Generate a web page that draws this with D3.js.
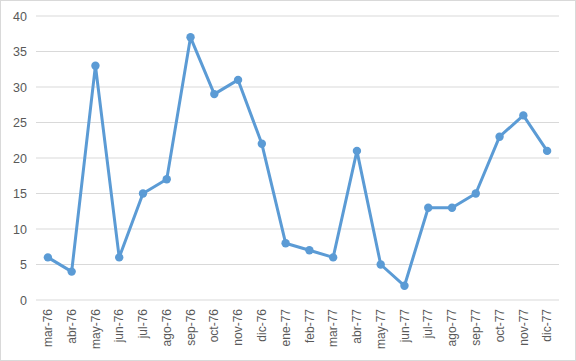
<!DOCTYPE html>
<html><head><meta charset="utf-8">
<script src="https://cdn.jsdelivr.net/npm/d3@7"></script>
<style>body{margin:0;background:#fff}svg{display:block}</style>
</head><body>
<script>
const categories = ["mar-76","abr-76","may-76","jun-76","jul-76","ago-76","sep-76","oct-76","nov-76","dic-76","ene-77","feb-77","mar-77","abr-77","may-77","jun-77","jul-77","ago-77","sep-77","oct-77","nov-77","dic-77"];
const values = [6,4,33,6,15,17,37,29,31,22,8,7,6,21,5,2,13,13,15,23,26,21];
const yTicks = [0,5,10,15,20,25,30,35,40];

const W = 576, H = 361;
const svg = d3.select("body").append("svg").attr("width", W).attr("height", H);
svg.append("rect").attr("x",0.5).attr("y",0.5).attr("width",W-1).attr("height",H-1)
  .attr("fill","#fff").attr("stroke","#d9d9d9");

const x = d3.scaleBand().domain(categories).range([36, 559]);
const y = d3.scaleLinear().domain([0,40]).range([300, 16]);
const font = "'Liberation Sans', Arial, sans-serif";

// gridlines
svg.append("g").selectAll("line").data(yTicks).join("line")
  .attr("x1",36).attr("x2",559).attr("y1",d=>y(d)).attr("y2",d=>y(d))
  .attr("stroke", "#d9d9d9").attr("stroke-width",1);

// y axis
const ya = svg.append("g").attr("transform","translate(36,0)")
  .call(d3.axisLeft(y).tickValues(yTicks).tickSize(0).tickPadding(9));
ya.select(".domain").remove();
ya.selectAll("text").attr("font-family",font).attr("font-size",12.5).attr("fill","#595959");

// x axis
const xa = svg.append("g").attr("transform","translate(0,300)")
  .call(d3.axisBottom(x).tickSize(0));
xa.select(".domain").remove();
xa.selectAll("text").attr("font-family",font).attr("font-size",12).attr("fill","#595959")
  .attr("transform","rotate(-90)").attr("text-anchor","end").attr("dx","-9").attr("dy","0.35em").attr("y",0).attr("x",0);

const cx = d => x(d) + x.bandwidth()/2;
const line = d3.line().x((d,i)=>cx(categories[i])).y(d=>y(d));
svg.append("path").datum(values).attr("d",line).attr("fill","none")
  .attr("stroke","#5b9bd5").attr("stroke-width",3).attr("stroke-linejoin","round");
svg.append("g").selectAll("circle").data(values).join("circle")
  .attr("cx",(d,i)=>cx(categories[i])).attr("cy",d=>y(d)).attr("r",4.2)
  .attr("fill","#5b9bd5");
</script>
</body></html>
